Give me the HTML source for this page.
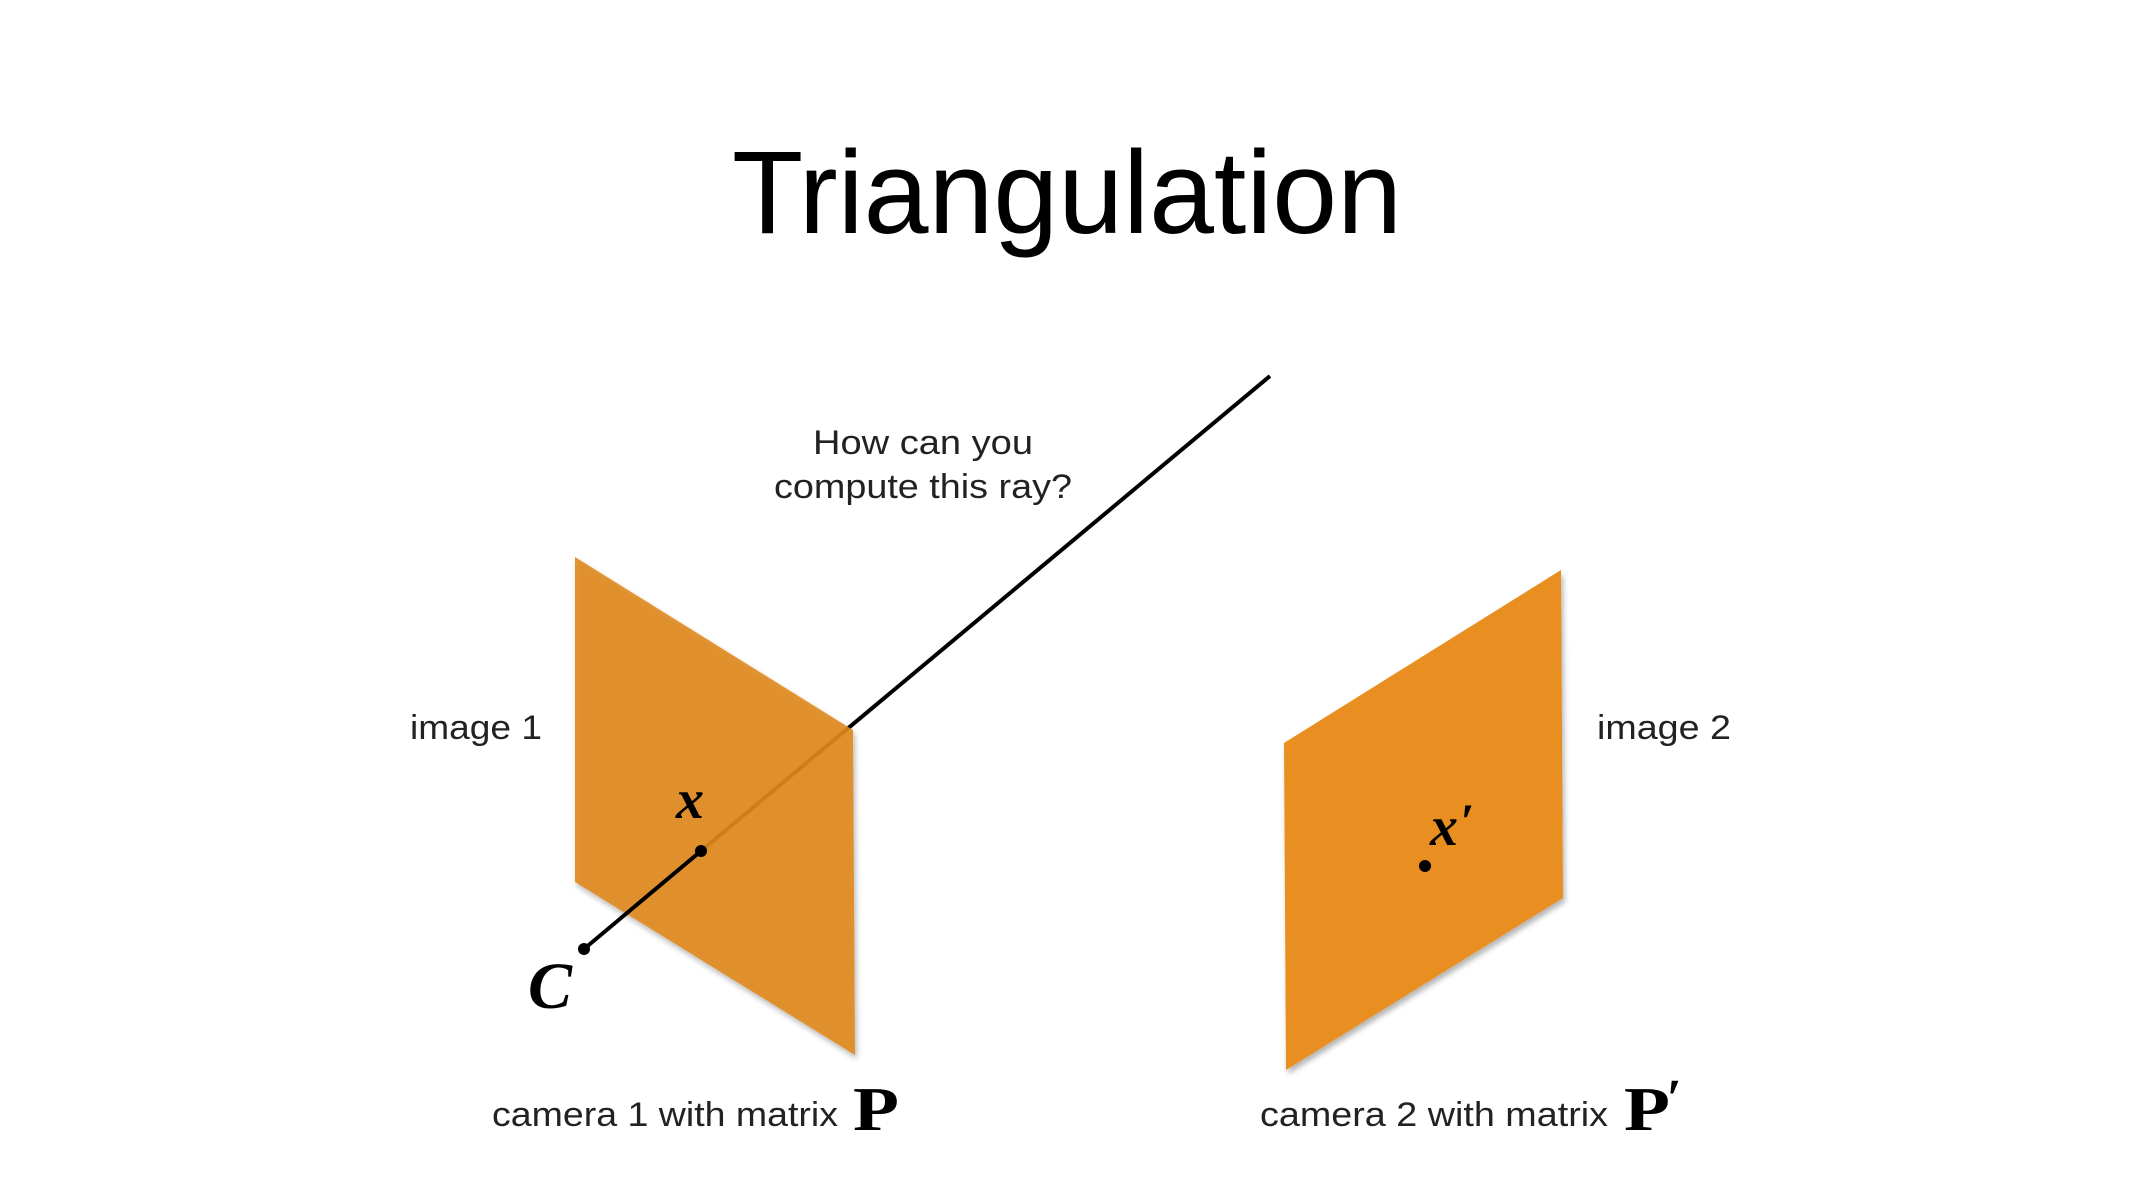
<!DOCTYPE html>
<html><head><meta charset="utf-8"><style>html,body{margin:0;padding:0;background:#fff;}svg{display:block}</style></head>
<body>
<svg width="2133" height="1200" viewBox="0 0 2133 1200" xmlns="http://www.w3.org/2000/svg">
<defs>
<filter id="sh" x="-10%" y="-10%" width="130%" height="130%"><feGaussianBlur in="SourceAlpha" stdDeviation="3"/><feOffset dx="2" dy="4"/><feComponentTransfer><feFuncA type="linear" slope="0.3"/></feComponentTransfer><feMerge><feMergeNode/><feMergeNode in="SourceGraphic"/></feMerge></filter>
</defs>
<text x="1067" y="233" font-family="Liberation Sans, sans-serif" font-size="118" text-anchor="middle" textLength="670" lengthAdjust="spacingAndGlyphs" fill="#000">Triangulation</text>

<line x1="1270" y1="376" x2="701" y2="851" stroke="#000" stroke-width="4"/>
<polygon points="575,557 853,730 855,1055 575,882" fill="#e08a1e" fill-opacity="0.9" filter="url(#sh)"/>
<line x1="701" y1="851" x2="584" y2="949" stroke="#000" stroke-width="4"/>
<circle cx="701" cy="851" r="6" fill="#000"/>
<circle cx="584" cy="949" r="6" fill="#000"/>
<text x="690" y="818" font-family="Liberation Serif, serif" font-size="56" font-weight="bold" font-style="italic" text-anchor="middle">x</text>
<text x="550" y="1008" font-family="Liberation Serif, serif" font-size="66" font-weight="bold" font-style="italic" text-anchor="middle">C</text>

<polygon points="1284,743 1561,570 1563,898 1286,1070" fill="#e98f23" filter="url(#sh)"/>
<circle cx="1425" cy="866" r="6" fill="#000"/>
<text x="1430" y="845" font-family="Liberation Serif, serif" font-size="56" font-weight="bold" font-style="italic">x</text>
<text x="1460" y="838" font-family="Liberation Serif, serif" font-size="50" font-weight="bold" font-style="italic">′</text>

<g font-family="Liberation Sans, sans-serif" font-size="34" fill="#222">
<text x="923" y="454" text-anchor="middle" textLength="220" lengthAdjust="spacingAndGlyphs">How can you</text>
<text x="923" y="498" text-anchor="middle" textLength="298" lengthAdjust="spacingAndGlyphs">compute this ray?</text>
<text x="410" y="739" textLength="132" lengthAdjust="spacingAndGlyphs">image 1</text>
<text x="1597" y="739" textLength="134" lengthAdjust="spacingAndGlyphs">image 2</text>
<text x="492" y="1126" textLength="346" lengthAdjust="spacingAndGlyphs">camera 1 with matrix</text>
<text x="1260" y="1126" textLength="348" lengthAdjust="spacingAndGlyphs">camera 2 with matrix</text>
</g>
<text x="853" y="1130" font-family="Liberation Serif, serif" font-size="62" font-weight="bold" textLength="46" lengthAdjust="spacingAndGlyphs">P</text>
<text x="1624" y="1130" font-family="Liberation Serif, serif" font-size="62" font-weight="bold" textLength="46" lengthAdjust="spacingAndGlyphs">P</text>
<text x="1666" y="1116" font-family="Liberation Serif, serif" font-size="54" font-weight="bold" font-style="italic">′</text>
</svg>
</body></html>
